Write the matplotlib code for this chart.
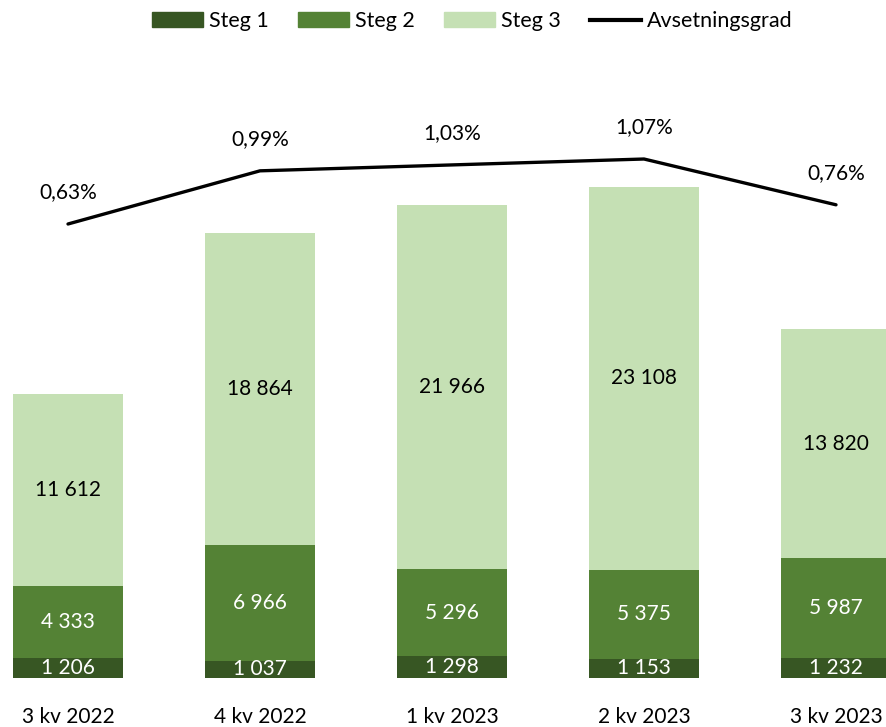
import matplotlib
matplotlib.use("Agg")
import matplotlib.pyplot as plt
from matplotlib.patches import Patch
from matplotlib.lines import Line2D

categories = ["3 kv 2022", "4 kv 2022", "1 kv 2023", "2 kv 2023", "3 kv 2023"]
steg1 = [1206, 1037, 1298, 1153, 1232]
steg2 = [4333, 6966, 5296, 5375, 5987]
steg3 = [11612, 18864, 21966, 23108, 13820]
avsetningsgrad = [0.63, 0.99, 1.03, 1.07, 0.76]

c1, c2, c3 = "#375623", "#548235", "#C5E0B4"
font = "Lato"
plt.rcParams["font.family"] = [font, "DejaVu Sans"]

W, H = 887, 727
fig = plt.figure(figsize=(W / 100, H / 100), dpi=100)
bottom_px, top_px = 678, 50
ax = fig.add_axes([0, (H - bottom_px) / H, 1, (bottom_px - top_px) / H])
ax.set_xlim(-68 / 192, (W - 68) / 192)
px_per_unit = 491 / 29636
ax.set_ylim(0, (bottom_px - top_px) / px_per_unit)

x = list(range(len(categories)))
w = 110 / 192
b2 = steg1
b3 = [a + b for a, b in zip(steg1, steg2)]
ax.bar(x, steg1, w, color=c1, linewidth=0)
ax.bar(x, steg2, w, bottom=b2, color=c2, linewidth=0)
ax.bar(x, steg3, w, bottom=b3, color=c3, linewidth=0)

def fmt(v):
    return f"{v:,}".replace(",", " ")

for i in x:
    ax.text(i, steg1[i] / 2, fmt(steg1[i]), ha="center", va="center", color="white", fontsize=15, clip_on=True)
    ax.text(i, b2[i] + steg2[i] / 2, fmt(steg2[i]), ha="center", va="center", color="white", fontsize=15, clip_on=True)
    ax.text(i, b3[i] + steg3[i] / 2, fmt(steg3[i]), ha="center", va="center", color="black", fontsize=15, clip_on=True)

for s in ax.spines.values():
    s.set_visible(False)
ax.set_xticks([])
ax.set_yticks([])

ax2 = ax.twinx()
ppp = 147.7  # px per 1%
zero_px = 224 + 0.63 * ppp
ax2.set_ylim(-(bottom_px - zero_px) / ppp, (zero_px - top_px) / ppp)
ax2.plot(x, avsetningsgrad, color="black", linewidth=2.4, solid_capstyle="round")
for i in x:
    ax2.annotate(f"{avsetningsgrad[i]:.2f}%".replace(".", ","), (i, avsetningsgrad[i]),
                 xytext=(0, 23), textcoords="offset points", ha="center", va="center", fontsize=15)
for s in ax2.spines.values():
    s.set_visible(False)
ax2.set_yticks([])
ax2.set_xlim(ax.get_xlim())

for i, c in enumerate(categories):
    fig.text((68 + 192 * i) / W, 1 - 717 / H, c, ha="center", va="center", fontsize=15)

handles = [Patch(color=c1), Patch(color=c2), Patch(color=c3), Line2D([], [], color="black", linewidth=3)]
labels = ["Steg 1", "Steg 2", "Steg 3", "Avsetningsgrad"]
fig.legend(handles, labels, loc="center", bbox_to_anchor=(472 / W, 1 - 21 / H), ncol=4, frameon=False,
           fontsize=15.5, handlelength=2.4, handleheight=0.65, columnspacing=1.35, handletextpad=0.25)

fig.savefig("out.png", dpi=100)
